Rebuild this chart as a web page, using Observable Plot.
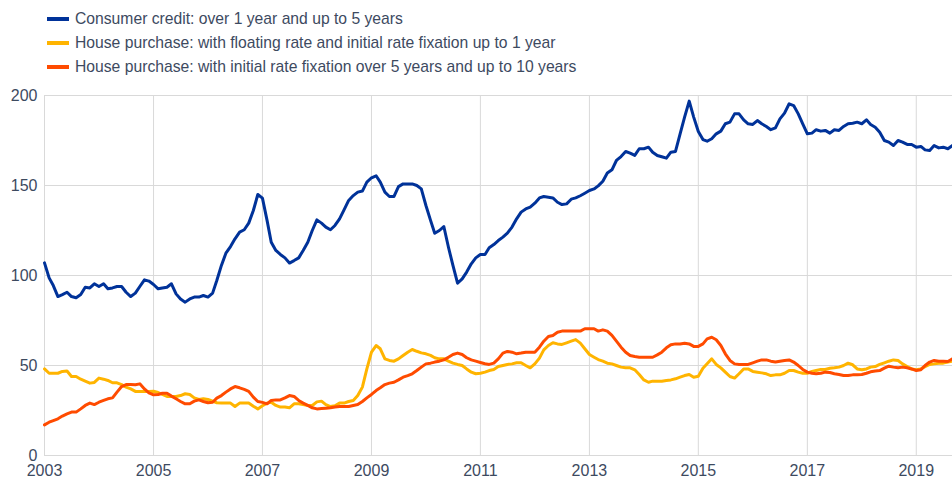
<!DOCTYPE html>
<html>
<head>
<meta charset="utf-8">
<script src="https://cdn.jsdelivr.net/npm/d3@7"></script>
<script src="https://cdn.jsdelivr.net/npm/@observablehq/plot@0.6"></script>
<style>
  html, body { margin: 0; padding: 0; background: #fff; }
  body { width: 952px; height: 485px; overflow: hidden; font-family: Arial, "Liberation Sans", sans-serif; }
  #legend { position: relative; height: 80px; }
  .item { position: absolute; left: 47px; height: 20px; display: flex; align-items: center; font-size: 15.7px; color: #3d4a5f; white-space: nowrap; }
  .sw { width: 22px; height: 4px; margin-right: 6px; }
  #chart svg { display: block; }
</style>
</head>
<body>
<div id="legend"></div>
<div id="chart"></div>
<script>
// Series names and colours
const seriesNames = [
  "Consumer credit: over 1 year and up to 5 years",
  "House purchase: with floating rate and initial rate fixation up to 1 year",
  "House purchase: with initial rate fixation over 5 years and up to 10 years"
];
const seriesColors = ["#003299", "#ffb400", "#ff4b00"];

// Monthly observations, starting January 2003
const startMonth = "2003-01-01";

const consumerCredit = [
  107, 98.7, 94.4, 88.3, 89.4, 90.7, 88.3, 87.6, 89.4, 93.5, 93.1, 95.4,
  93.9, 95.4, 92.6, 93.1, 93.9, 93.9, 90.7, 88.3, 90.2, 93.9, 97.6, 96.9,
  95, 92.6, 93.1, 93.5, 95.4, 89.8, 86.9, 85.2, 87, 88, 88, 88.9,
  88, 90.2, 97.2, 105.6, 112.4, 116.1, 120.4, 124.1, 125.4, 129.1, 136.1, 145,
  143, 130.6, 118.5, 113.9, 111.7, 109.8, 106.9, 108.3, 109.8, 113.9, 118.5, 125,
  130.9, 129.1, 126.9, 125.4, 127.8, 131.5, 136.5, 141.7, 144.4, 146.3, 146.9, 151.9,
  154.3, 155.4, 151.9, 146.3, 143.9, 143.9, 149.4, 150.9, 150.9, 150.9, 150, 148.1,
  138.9, 130.6, 123.5, 125, 127.2, 115.7, 105.6, 95.7, 98.1, 101.9, 106.5, 109.8,
  111.7, 111.7, 115.4, 117.2, 119.4, 121.3, 123.5, 126.9, 131.5, 135.2, 137, 138,
  140.2, 143.1, 143.9, 143.5, 143.1, 140.7, 139.4, 139.8, 142.4, 143.1, 144.3, 145.7,
  147.2, 148.1, 149.8, 152.4, 156.9, 158.7, 163.9, 166.1, 168.9, 168, 166.7, 170.4,
  170.4, 171.3, 168.5, 166.7, 166, 165.2, 168.5, 168.9, 178.7, 188, 196.9, 188,
  180, 175.5, 174.6, 176, 178.7, 180.2, 184.3, 185.2, 189.8, 189.8, 186.5, 184.3,
  183.9, 186.1, 184.3, 182.8, 181, 182, 187, 190.2, 195.4, 194.4, 189.8, 184.3,
  178.7, 179.1, 181, 180.2, 180.6, 179.1, 181, 180.6, 182.8, 184.3, 184.6, 185.2,
  184.3, 186.5, 183.9, 182.4, 179.6, 175, 174.1, 172.2, 175, 174.1, 172.8, 172.8,
  171.3, 171.7, 169.8, 169.4, 172.2, 170.9, 171.3, 170.4, 172.2
];

const floatingRate = [
  48.1, 45.7, 45.7, 45.7, 46.7, 46.9, 43.9, 43.9, 42.4, 41.3, 40.2, 40.6,
  43, 42.4, 41.7, 40.4, 40.4, 39.4, 38, 37, 35.6, 35.6, 35.6, 35.6,
  35.7, 35, 33.9, 32.8, 32.8, 32.8, 33.3, 34.3, 33.9, 32, 31.1, 31.5,
  31.1, 30.2, 29.3, 29.1, 29.1, 29.1, 27.2, 29.1, 29.1, 29.1, 27.4, 25.9,
  27.6, 29.1, 29.6, 27.8, 26.9, 26.9, 26.5, 28.7, 28.7, 28.3, 27.8, 27.8,
  29.8, 30.2, 28.3, 27.2, 27.6, 29.1, 29.1, 30, 30.6, 33.3, 38, 48.1,
  57.4, 61.1, 59.3, 53.7, 52.8, 52.4, 53.7, 55.6, 57.4, 58.9, 57.9, 57,
  56.5, 55.6, 54.3, 53.7, 53.7, 52.4, 51.3, 50.6, 50, 48.1, 46.3, 45.4,
  45.7, 46.3, 47.2, 47.8, 49.4, 50, 50.6, 50.9, 51.5, 51.5, 50, 48.7,
  50.9, 54.1, 58.7, 61.1, 62.6, 62, 61.7, 62.6, 63.5, 64.4, 62.4, 59.3,
  56.1, 54.6, 53.3, 52.4, 51.3, 50.9, 50, 49.1, 48.7, 48.7, 47.6, 45,
  42, 40.7, 41.3, 41.3, 41.3, 41.7, 42, 42.6, 43.5, 44.4, 45, 43.5,
  44, 48.5, 51, 53.7, 50.6, 48.7, 46.3, 43.9, 43, 45.4, 48.1, 48.1,
  46.7, 46.3, 45.9, 45.4, 44.4, 44.8, 44.8, 45.7, 47.2, 47.2, 46.3, 45.7,
  45.7, 46.7, 47.2, 47.8, 47.8, 48.5, 48.7, 49.1, 50, 51.3, 50.4, 48.1,
  47.6, 48.1, 49.1, 49.4, 50.6, 51.5, 52.4, 53.1, 52.8, 50.9, 49.4, 48.1,
  47.6, 48.1, 49.4, 50.6, 50.9, 51.3, 51.3, 51.9, 52.4
];

const fixedOver5 = [
  17, 18.5, 19.4, 20.4, 21.9, 23.1, 24.1, 24.1, 25.9, 27.8, 29.1, 28.3,
  29.6, 30.6, 31.5, 32, 35.2, 38.3, 39.4, 39.4, 39.3, 39.8, 37, 34.8,
  33.7, 33.9, 34.6, 34.6, 33, 31.5, 30, 28.7, 28.7, 30.2, 30.9, 30,
  29.3, 29.6, 31.9, 33.3, 35.2, 37, 38.3, 37.6, 36.7, 35.6, 32.4, 30,
  29.5, 28.7, 30.6, 30.9, 30.9, 32, 33.3, 32.8, 30.6, 29.1, 27.8, 26.5,
  25.9, 26.1, 26.3, 26.5, 26.9, 27.2, 27.2, 27.2, 27.8, 28.3, 30, 32,
  33.9, 36.1, 37.6, 39.4, 40.2, 40.7, 42, 43.5, 44.4, 45.4, 47.2, 49.1,
  50.9, 51.3, 51.9, 52.4, 53.1, 54.6, 56.1, 56.9, 56.1, 54.3, 53.1, 52.4,
  51.7, 51, 50.6, 51.3, 53.7, 56.9, 57.8, 57.4, 56.5, 56.9, 57.4, 57.4,
  57.4, 60.2, 63.5, 66.1, 66.7, 68.5, 69.1, 69.1, 69.1, 69.1, 69.1, 70.4,
  70.4, 70.4, 69.1, 69.8, 69.1, 66.7, 63.5, 60.2, 57.4, 55.6, 55, 54.6,
  54.6, 54.6, 54.6, 55.9, 57.4, 59.8, 61.5, 62, 62, 62.4, 62, 60.6,
  60.6, 62, 64.8, 65.7, 64.3, 61.1, 56.5, 52.8, 50.9, 50.6, 50.6, 50.6,
  51.5, 52.4, 53.1, 53.1, 52.4, 51.9, 52.4, 52.8, 53.1, 51.9, 50, 47.8,
  46.3, 45.7, 45.4, 45.7, 46.3, 46.1, 45.4, 45, 44.4, 44.4, 44.8, 44.8,
  45, 45.7, 46.5, 46.9, 47.2, 48.5, 49.6, 49.1, 48.7, 49.1, 48.7, 48.1,
  47.2, 47.6, 50, 51.9, 52.8, 52.4, 52.4, 52.2, 53.7
];

// Axis ticks
const xTickYears = [2003, 2005, 2007, 2009, 2011, 2013, 2015, 2017, 2019];
const yTicks = [0, 50, 100, 150, 200];
const xDomainEnd = "2019-09-01";

// Build long table
const start = new Date(startMonth + "T00:00:00Z");
const allSeries = [consumerCredit, floatingRate, fixedOver5];
const rows = [];
allSeries.forEach((vals, si) => {
  vals.forEach((v, i) => rows.push({date: d3.utcMonth.offset(start, i), value: v, series: seriesNames[si]}));
});
const xTicks = xTickYears.map(y => new Date(Date.UTC(y, 0, 1)));

// Legend
const legend = document.getElementById("legend");
const legendTops = [9, 33, 57];
seriesNames.forEach((name, i) => {
  const it = document.createElement("div");
  it.className = "item";
  it.style.top = legendTops[i] + "px";
  const sw = document.createElement("span");
  sw.className = "sw";
  sw.style.background = seriesColors[i];
  const tx = document.createElement("span");
  tx.textContent = name;
  it.appendChild(sw); it.appendChild(tx);
  legend.appendChild(it);
});

const gridColor = "#d9d9d9";
const chart = Plot.plot({
  width: 952,
  height: 405,
  marginLeft: 44,
  marginRight: 0,
  marginTop: 15,
  marginBottom: 30,
  style: {fontFamily: 'Arial, "Liberation Sans", sans-serif', fontSize: "16px", color: "#3d4a5f", background: "#fff"},
  x: {type: "utc", domain: [start, new Date(xDomainEnd + "T00:00:00Z")], ticks: xTicks, tickFormat: d3.utcFormat("%Y"), tickSize: 0, tickPadding: 9, label: null},
  y: {domain: [0, 200], ticks: yTicks, tickSize: 0, tickPadding: 7, label: null},
  color: {domain: seriesNames, range: seriesColors},
  marks: [
    Plot.ruleY(yTicks, {stroke: gridColor, strokeWidth: 1}),
    Plot.ruleX(xTicks, {stroke: gridColor, strokeWidth: 1}),
    Plot.line(rows, {x: "date", y: "value", z: "series", stroke: "series", strokeWidth: 3, strokeLinejoin: "round", strokeLinecap: "round"})
  ]
});
document.getElementById("chart").appendChild(chart);
</script>
</body>
</html>
